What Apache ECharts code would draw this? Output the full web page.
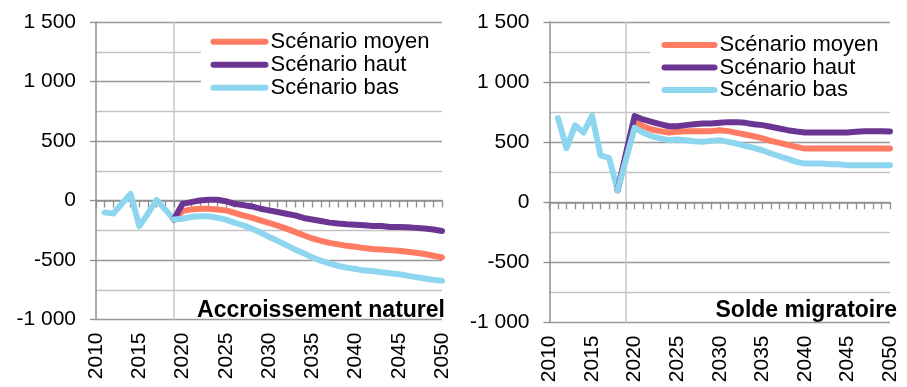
<!DOCTYPE html>
<html><head><meta charset="utf-8">
<script src="https://cdn.jsdelivr.net/npm/echarts@6/dist/echarts.min.js"></script>
<style>html,body{margin:0;padding:0;background:#fff}#c{width:907px;height:387px}</style>
</head><body><div id="c"></div>
<script>
// Categories
const years = ['2010','2011','2012','2013','2014','2015','2016','2017','2018','2019',
  '2020','2021','2022','2023','2024','2025','2026','2027','2028','2029',
  '2030','2031','2032','2033','2034','2035','2036','2037','2038','2039',
  '2040','2041','2042','2043','2044','2045','2046','2047','2048','2049','2050'];
const scenarioNames = ['Scénario moyen', 'Scénario haut', 'Scénario bas'];
const panelTitles = ['Accroissement naturel', 'Solde migratoire'];

// Accroissement naturel: observed 2010-2019, scenarios 2019-2050
const natHist = [null, -100, -110, -25, 55, -215, -110, 5, -75, -160];
const natMoyen = [-160, -89, -75, -69, -69, -75, -83, -103, -125, -144,
  -167, -189, -211, -236, -264, -292, -319, -339, -356, -369,
  -381, -389, -400, -408, -411, -417, -422, -431, -439, -450, -464, -478];
const natHaut = [-160, -28, -14, 0, 6, 6, -6, -28, -39, -50,
  -69, -83, -97, -111, -125, -147, -160, -172, -186, -194,
  -200, -203, -208, -214, -214, -222, -222, -225, -230, -236, -244, -256];
const natBas = [-160, -153, -139, -133, -133, -144, -161, -186, -208, -236,
  -269, -306, -339, -375, -411, -444, -478, -506, -528, -550,
  -564, -575, -589, -592, -603, -611, -619, -631, -644, -656, -667, -675];

// Solde migratoire: observed 2010-2018, scenarios 2018-2050
const migHist = [null, 700, 450, 640, 580, 720, 390, 370, 100];
const migMoyen = [100, 385, 669, 633, 606, 592, 581, 586, 592, 592,
  592, 592, 600, 592, 578, 564, 550, 531, 511, 494,
  478, 461, 447, 447, 447, 447, 447, 447, 447, 447, 447, 447, 447];
const migHaut = [100, 410, 717, 689, 669, 650, 633, 633, 642, 650,
  656, 656, 661, 667, 667, 661, 650, 642, 628, 614,
  600, 589, 581, 581, 581, 581, 581, 581, 586, 592, 592, 592, 590];
const migBas = [100, 360, 622, 578, 550, 531, 517, 522, 517, 508,
  503, 511, 517, 503, 489, 469, 453, 433, 406, 383,
  361, 336, 322, 322, 322, 317, 317, 308, 308, 308, 308, 308, 308];

const FONT = '"Liberation Sans", Arial, sans-serif';
const COL = {moyen: '#FF7B62', haut: '#6B3594', bas: '#8ED6F0'};
const AXIS = '#8f8f8f', MAJOR = '#999999', MINOR = '#c2c2c2', MARK = '#c8c8c8';
const LW = 6;

function place(values, startYear) {
  const out = years.map(() => null);
  const s = years.indexOf(String(startYear));
  values.forEach((v, k) => { out[s + k] = v; });
  return out;
}
function fmt(v) {
  const s = Math.abs(v).toString().replace(/\B(?=(\d{3})+(?!\d))/g, ' ');
  return (v < 0 ? '-' : '') + s;
}

const panels = [
  {hist: natHist, moyen: natMoyen, haut: natHaut, bas: natBas, start: 2019},
  {hist: migHist, moyen: migMoyen, haut: migHaut, bas: migBas, start: 2018}
];
const grids = [
  {left: 96, right: 465, top: 22, bottom: 67.5},
  {left: 549.5, right: 17, top: 22, bottom: 64.5}
];

const xAxis = [], yAxis = [], series = [];
panels.forEach((p, g) => {
  xAxis.push({
    gridIndex: g, type: 'category', data: years, boundaryGap: false, position: 'bottom',
    axisLine: {onZero: true, lineStyle: {color: AXIS, width: 1.5}},
    axisTick: {interval: 0, length: 7, lineStyle: {color: AXIS, width: 1.3}},
    axisLabel: {show: false}, splitLine: {show: false}
  });
  xAxis.push({
    gridIndex: g, type: 'category', data: years, boundaryGap: false, position: 'bottom',
    axisLine: {show: false, onZero: false}, axisTick: {show: false},
    axisLabel: {interval: 4, rotate: 90, margin: 13, fontSize: 21, color: '#000', fontFamily: FONT},
    splitLine: {show: true, interval: (i) => i === 9, lineStyle: {color: MARK, width: 1.5}}
  });
  yAxis.push({
    gridIndex: g, type: 'value', min: -1000, max: 1500, interval: 500,
    axisLine: {show: true, lineStyle: {color: AXIS, width: 1.5}},
    axisTick: {show: true, length: 6, lineStyle: {color: AXIS, width: 1.3}},
    minorTick: {show: false, splitNumber: 2},
    minorSplitLine: {show: true, lineStyle: {color: MINOR, width: 1.3}},
    splitLine: {show: true, lineStyle: {color: MAJOR, width: 1.3}},
    axisLabel: {margin: 20, fontSize: 21, color: '#000', fontFamily: FONT, formatter: fmt}
  });
  const common = {xAxisIndex: g * 2, yAxisIndex: g, type: 'line', symbol: 'none', silent: true};
  series.push(Object.assign({}, common, {name: 'hist', data: place(p.hist, 2010),
    itemStyle: {color: COL.bas}, lineStyle: {width: LW, cap: 'round', join: 'round', color: COL.bas}}));
  [['moyen', 0], ['haut', 1], ['bas', 2]].forEach(([k, n]) => {
    series.push(Object.assign({}, common, {name: scenarioNames[n], data: place(p[k], p.start),
      itemStyle: {color: COL[k]}, lineStyle: {width: LW, cap: 'round', join: 'round', color: COL[k]}}));
  });
});

const legendBase = {
  data: scenarioNames, orient: 'vertical', backgroundColor: '#fff',
  itemHeight: 6, selectedMode: false,
  lineStyle: {width: LW, cap: 'round'}, itemStyle: {opacity: 0},
  textStyle: {fontSize: 22, color: '#000', fontFamily: FONT}
};

const chart = echarts.init(document.getElementById('c'), null, {renderer: 'canvas'});
chart.setOption({
  animation: false,
  backgroundColor: '#fff',
  grid: grids,
  xAxis: xAxis,
  yAxis: yAxis,
  legend: [
    Object.assign({}, legendBase, {left: 201, top: 26.7, padding: [4, 16, 4, 9.5], itemGap: 1, itemWidth: 52}),
    Object.assign({}, legendBase, {left: 650, top: 30, padding: [4, 15, 4, 11.5], itemGap: 0.5, itemWidth: 50})
  ],
  graphic: [
    {type: 'text', x: 445, y: 311, style: {text: panelTitles[0], align: 'right', verticalAlign: 'middle',
      fontSize: 23, fontWeight: 'bold', fontFamily: FONT, fill: '#000'}},
    {type: 'text', x: 897, y: 311, style: {text: panelTitles[1], align: 'right', verticalAlign: 'middle',
      fontSize: 23, fontWeight: 'bold', fontFamily: FONT, fill: '#000'}}
  ],
  series: series
});
</script></body></html>
